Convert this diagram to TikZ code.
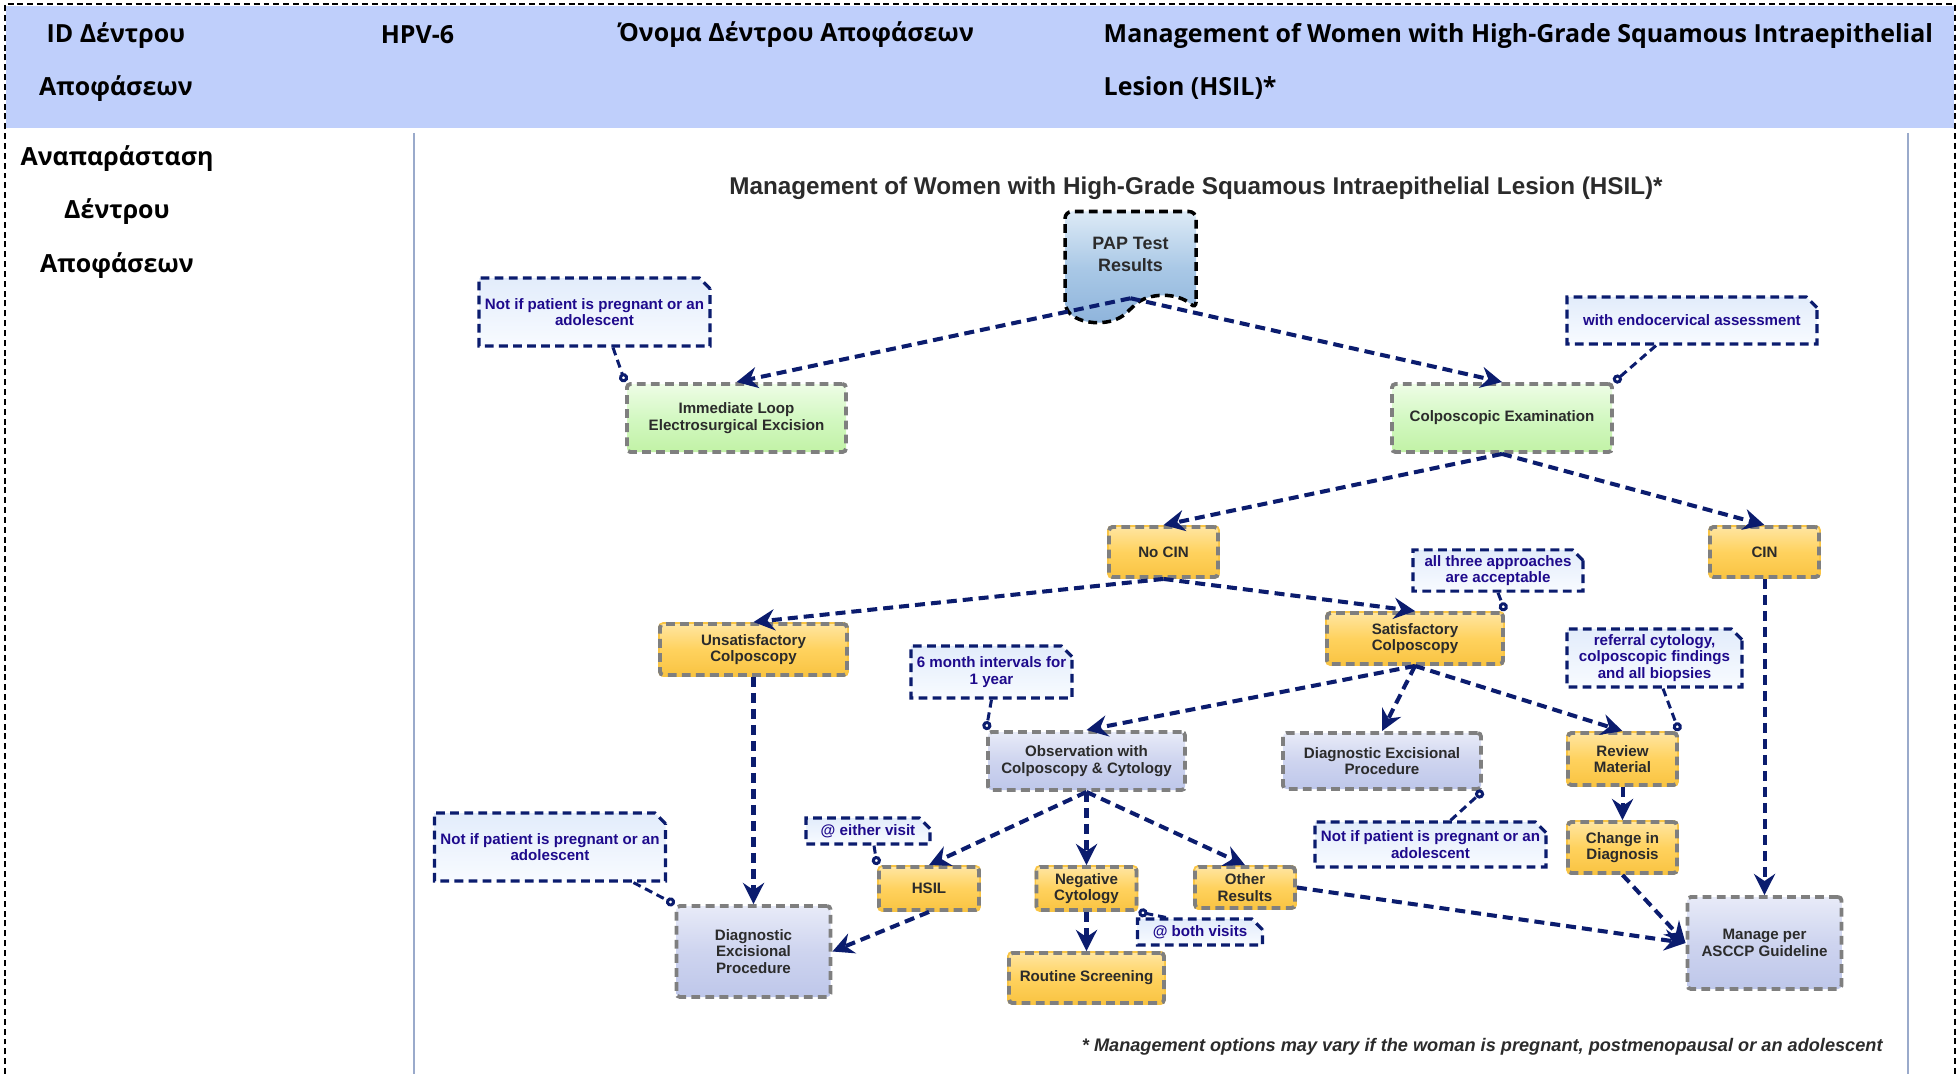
\documentclass[tikz,border=0pt]{standalone}
\usepackage{fontspec}
\setmainfont{Liberation Sans}
\newfontfamily\greekfont{Open Sans}
\usepackage{xcolor}
\usetikzlibrary{shapes.geometric, shapes.misc, shapes.symbols, arrows.meta, positioning, calc}

\definecolor{navyline}{HTML}{0B1C6E}
\definecolor{notetext}{HTML}{1E0A8C}
\definecolor{boxgrey}{HTML}{7F7F7F}
\definecolor{boxtext}{HTML}{2B2B2B}
\definecolor{headblue}{HTML}{BFCFFB}
\definecolor{cellline}{HTML}{9AAACB}
\definecolor{greentop}{HTML}{EEFDE6}
\definecolor{greenmid}{HTML}{D3F8C2}
\definecolor{greenbot}{HTML}{C2F2A6}
\definecolor{orangetop}{HTML}{FFE5A0}
\definecolor{orangemid}{HTML}{FFD25E}
\definecolor{orangebot}{HTML}{F9C443}
\definecolor{lilactop}{HTML}{E8EBF8}
\definecolor{lilacmid}{HTML}{CED4EF}
\definecolor{lilacbot}{HTML}{BEC7EA}
\definecolor{notetop}{HTML}{E2ECFB}
\definecolor{notebot}{HTML}{F8FBFF}
\definecolor{paptop}{HTML}{DDEAF6}
\definecolor{papmid}{HTML}{A9C8E6}
\definecolor{papbot}{HTML}{8DB3DB}

\begin{document}
\begin{tikzpicture}[on grid, >={Stealth[length=6pt,width=6pt,inset=2pt]}]
    \tikzset{
        headtext/.style={font=\greekfont\bfseries\fontsize{7.1}{15.1}\selectfont, align=center, inner sep=0pt},
        boxbase/.style={rectangle, rounded corners=1pt, draw=boxgrey, line width=1.1pt, dash pattern=on 2.5pt off 1.5pt, inner sep=0pt, align=center, text=boxtext, font=\fontsize{4.3}{4.75}\selectfont\bfseries},
        greenbox/.style={boxbase, top color=greentop, bottom color=greenbot, middle color=greenmid},
        orangebox/.style={boxbase, top color=orangetop, bottom color=orangebot, middle color=orangemid, preaction={draw=orangebot, solid, line width=1.1pt}},
        lilacbox/.style={boxbase, top color=lilactop, bottom color=lilacbot, middle color=lilacmid},
        note/.style={chamfered rectangle, chamfered rectangle corners=north east, chamfered rectangle xsep=1.5pt, chamfered rectangle ysep=1.5pt, draw=navyline, line width=0.9pt, dash pattern=on 2.5pt off 1.5pt, top color=notetop, bottom color=notebot, inner sep=0pt, align=center, text=notetext, font=\fontsize{4.3}{4.75}\selectfont\bfseries},
        paper/.style={tape, tape bend top=none, tape bend bottom=in and out, tape bend height=0.25cm, rounded corners=2pt, draw=black, line width=1pt, dash pattern=on 2.5pt off 1.5pt, top color=paptop, bottom color=papbot, middle color=papmid, inner sep=0pt, align=center, text=boxtext, font=\fontsize{5.1}{6.3}\selectfont\bfseries},
        line/.style={draw=navyline, line width=1.15pt, dash pattern=on 2.85pt off 1.7pt, ->},
        link/.style={draw=navyline, line width=0.85pt, dash pattern=on 2.3pt off 1.4pt, -{Circle[length=2.6pt, fill=white]}}
    }

    % page frame and header row
    \useasboundingbox (0,0) rectangle (19.6,-10.74);
    \fill [headblue] (0.06,-0.06) rectangle (19.54,-1.28);
    \draw [line width=0.6pt, dash pattern=on 1.7pt off 1.1pt] (0.05,-10.74) -- (0.05,-0.04) -- (19.55,-0.04) -- (19.55,-10.74);
    \draw [cellline, line width=0.4pt] (4.14,-1.33) -- (4.14,-10.74);
    \draw [cellline, line width=0.4pt] (19.08,-1.33) -- (19.08,-10.74);

    \node (TreeId) [headtext] at (1.16,-0.625) {ID Δέντρου\\Αποφάσεων};
    \node (TreeCode) [headtext] at (4.175,-0.35) {HPV-6};
    \node (TreeLabel) [headtext] at (7.96,-0.35) {Όνομα Δέντρου Αποφάσεων};
    \node (TreeName) [headtext, anchor=west, align=left] at (11.03,-0.615) {Management of Women with High-Grade Squamous Intraepithelial\\Lesion (HSIL)*};
    \node (TreeView) [headtext] at (1.17,-2.12) {Αναπαράσταση\\Δέντρου\\Αποφάσεων};

    % decision tree
    \node (Title) [text=boxtext, font=\fontsize{6.9}{8}\selectfont\bfseries] at (11.96,-1.88) {Management of Women with High-Grade Squamous Intraepithelial Lesion (HSIL)*};

    \node (PapTest) [paper, minimum width=1.31cm, minimum height=1.1cm] at (11.305,-2.54) {PAP Test\\Results};
    \node (Leep) [greenbox, minimum width=2.19cm, minimum height=0.68cm, below left=1.64cm and 3.94cm of PapTest] {Immediate Loop\\Electrosurgical Excision};
    \node (Colpo) [greenbox, minimum width=2.2cm, minimum height=0.68cm, below right=1.64cm and 3.715cm of PapTest] {Colposcopic Examination};
    \node (LeepNote) [note, minimum width=2.31cm, minimum height=0.68cm, above left=1.06cm and 1.42cm of Leep] {Not if patient is pregnant or an\\adolescent};
    \node (ColpoNote) [note, minimum width=2.5cm, minimum height=0.47cm, above right=0.975cm and 1.9cm of Colpo] {with endocervical assessment};

    \node (NoCIN) [orangebox, minimum width=1.09cm, minimum height=0.5cm, below left=1.34cm and 3.385cm of Colpo] {No CIN};
    \node (CIN) [orangebox, minimum width=1.09cm, minimum height=0.5cm, below right=1.34cm and 2.625cm of Colpo] {CIN};
    \node (Unsat) [orangebox, minimum width=1.87cm, minimum height=0.51cm, below left=0.975cm and 4.1cm of NoCIN] {Unsatisfactory\\Colposcopy};
    \node (Sat) [orangebox, minimum width=1.76cm, minimum height=0.51cm, below right=0.865cm and 2.515cm of NoCIN] {Satisfactory\\Colposcopy};
    \node (SatNote) [note, minimum width=1.7cm, minimum height=0.41cm, above right=0.68cm and 0.83cm of Sat] {all three approaches\\are acceptable};

    \node (Observe) [lilacbox, minimum width=1.97cm, minimum height=0.58cm, below left=1.225cm and 3.285cm of Sat] {Observation with\\Colposcopy \& Cytology};
    \node (DiagMid) [lilacbox, minimum width=1.98cm, minimum height=0.56cm, below left=1.225cm and 0.33cm of Sat] {Diagnostic Excisional\\Procedure};
    \node (Review) [orangebox, minimum width=1.09cm, minimum height=0.52cm, below right=1.205cm and 2.075cm of Sat] {Review\\Material};
    \node (Change) [orangebox, minimum width=1.09cm, minimum height=0.51cm, below=0.885cm of Review] {Change in\\Diagnosis};
    \node (Manage) [lilacbox, minimum width=1.54cm, minimum height=0.92cm, below=3.91cm of CIN] {Manage per\\ASCCP Guideline};
    \node (ObserveNote) [note, minimum width=1.61cm, minimum height=0.52cm, above left=0.89cm and 0.95cm of Observe] {6 month intervals for\\1 year};
    \node (ReviewNote) [note, minimum width=1.75cm, minimum height=0.56cm, above right=1.01cm and 0.32cm of Review] {referral cytology,\\colposcopic findings\\and all biopsies};
    \node (DiagMidNote) [note, minimum width=2.31cm, minimum height=0.45cm, below right=0.835cm and 0.485cm of DiagMid] {Not if patient is pregnant or an\\adolescent};

    \node (HSIL) [orangebox, minimum width=1cm, minimum height=0.43cm, below left=1.275cm and 1.575cm of Observe] {HSIL};
    \node (NegCyto) [orangebox, minimum width=1cm, minimum height=0.43cm, below=1.275cm of Observe] {Negative\\Cytology};
    \node (Other) [orangebox, minimum width=1cm, minimum height=0.41cm, below right=1.265cm and 1.585cm of Observe] {Other\\Results};
    \node (EitherNote) [note, minimum width=1.24cm, minimum height=0.26cm, above left=0.575cm and 0.61cm of HSIL] {@ either visit};
    \node (BothNote) [note, minimum width=1.25cm, minimum height=0.26cm, below right=0.435cm and 1.135cm of NegCyto] {@ both visits};
    \node (Routine) [orangebox, minimum width=1.55cm, minimum height=0.5cm, below=0.895cm of NegCyto] {Routine Screening};
    \node (DiagLeft) [lilacbox, minimum width=1.54cm, minimum height=0.91cm, below=3.02cm of Unsat] {Diagnostic\\Excisional\\Procedure};
    \node (DiagLeftNote) [note, minimum width=2.31cm, minimum height=0.68cm, above left=1.045cm and 2.035cm of DiagLeft] {Not if patient is pregnant or an\\adolescent};

    \node (Footnote) [anchor=east, text=boxtext, font=\fontsize{5.17}{6}\selectfont\bfseries\itshape] at (18.95,-10.47) {* Management options may vary if the woman is pregnant, postmenopausal or an adolescent};

    \path [line] (PapTest.south) -- (Leep.north);
    \path [line] (PapTest.south) -- (Colpo.north);
    \path [line] (Colpo.south) -- (NoCIN.north);
    \path [line] (Colpo.south) -- (CIN.north);
    \path [line] (NoCIN.south) -- (Unsat.north);
    \path [line] (NoCIN.south) -- (Sat.north);
    \path [line] (Sat.south) -- (Observe.north);
    \path [line] (Sat.south) -- (DiagMid.north);
    \path [line] (Sat.south) -- (Review.north);
    \path [line] (Observe.south) -- (HSIL.north);
    \path [line] (Observe.south) -- (NegCyto.north);
    \path [line] (Observe.south) -- (Other.north);
    \path [line] (NegCyto) -- (Routine);
    \path [line] (HSIL.south) -- (DiagLeft.east);
    \path [line] (Unsat) -- (DiagLeft);
    \path [line] (Review) -- (Change);
    \path [line] (CIN) -- (Manage);
    \path [line] (Other.east) -- (Manage.west);
    \path [line] (Change.south) -- (Manage.west);

    % comment callouts
    \path [link] ([xshift=0.185cm]LeepNote.south) -- (Leep.north west);
    \path [link] ([xshift=-0.36cm]ColpoNote.south) -- (Colpo.north east);
    \path [link] (SatNote.south) -- (Sat.north east);
    \path [link] (ObserveNote.south) -- (Observe.north west);
    \path [link] ([xshift=0.085cm]ReviewNote.south) -- (Review.north east);
    \path [link] ([xshift=0.2cm]DiagMidNote.north) -- (DiagMid.south east);
    \path [link] ([xshift=0.06cm]EitherNote.south) -- (HSIL.north west);
    \path [link] ([xshift=0.3cm]BothNote.north west) -- (NegCyto.south east);
    \path [link] ([xshift=0.835cm]DiagLeftNote.south) -- (DiagLeft.north west);

\end{tikzpicture}
\end{document}
